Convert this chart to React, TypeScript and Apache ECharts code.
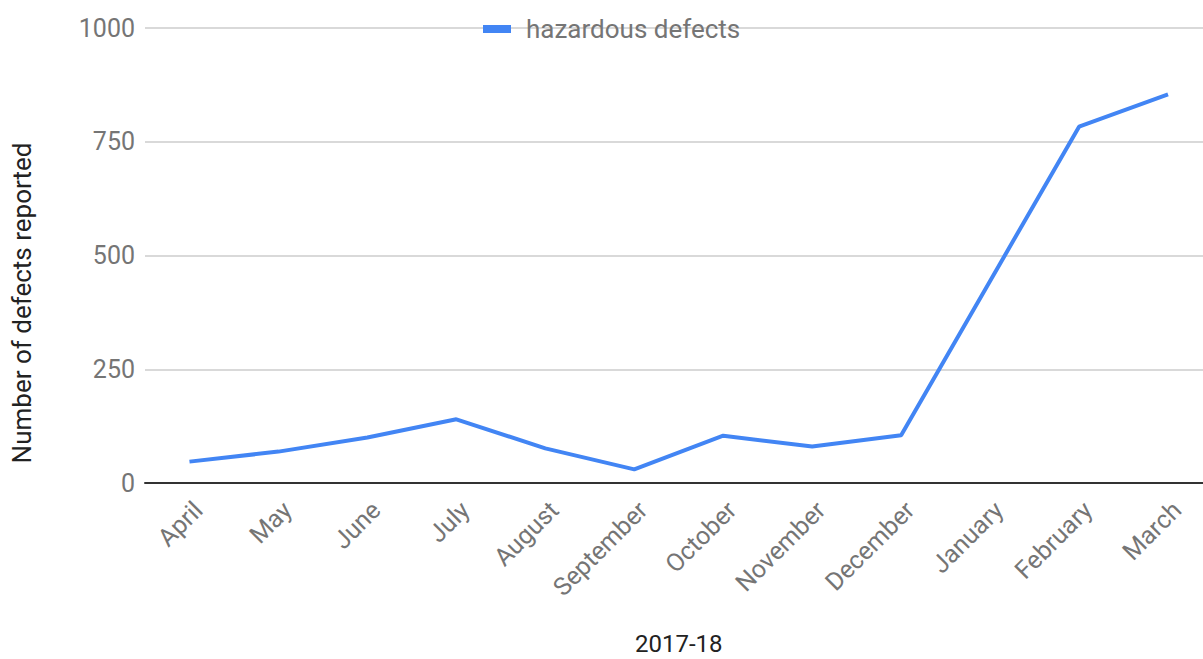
import React, { useEffect, useRef } from "react";
import * as echarts from "echarts";

// Monthly hazardous defect counts for the 2017-18 reporting year
const months = [
  "April", "May", "June", "July", "August", "September",
  "October", "November", "December", "January", "February", "March",
];
const hazardousDefects = [47, 69, 100, 140, 76, 30, 104, 80, 105, 444, 783, 854];
const yTicks = { min: 0, max: 1000, interval: 250 };

const seriesName = "hazardous defects";
const xTitle = "2017-18";
const yTitle = "Number of defects reported";

export default function App() {
  const ref = useRef<HTMLDivElement>(null);

  useEffect(() => {
    if (!ref.current) return;
    const chart = echarts.init(ref.current, undefined, { renderer: "svg" });
    const font = "Roboto, 'Noto Sans', sans-serif";
    chart.setOption({
      animation: false,
      backgroundColor: "#ffffff",
      textStyle: { fontFamily: font },
      grid: {
        left: 145,
        right: -9.5,
        top: 28,
        bottom: 176,
        containLabel: false,
        outerBoundsMode: "none",
      },
      legend: {
        data: [{ name: seriesName, icon: "rect" }],
        left: 483,
        top: 16,
        padding: 0,
        itemWidth: 28,
        itemHeight: 8,
        selectedMode: false,
        textStyle: {
          fontFamily: font,
          fontSize: 26,
          color: "#757575",
          padding: [0, 0, 0, 10],
        },
      },
      xAxis: {
        type: "category",
        data: months,
        boundaryGap: true,
        name: xTitle,
        nameLocation: "middle",
        nameGap: 161,
        nameTextStyle: {
          fontFamily: font,
          fontSize: 24,
          lineHeight: 20,
          verticalAlign: "middle",
          color: "#222222",
        },
        axisLine: { show: true, lineStyle: { color: "#333333", width: 2 } },
        axisTick: { show: false },
        axisLabel: {
          rotate: 45,
          interval: 0,
          margin: 14,
          verticalAlign: "top",
          fontFamily: font,
          fontSize: 25,
          color: "#757575",
        },
        splitLine: { show: false },
      },
      yAxis: {
        type: "value",
        min: yTicks.min,
        max: yTicks.max,
        interval: yTicks.interval,
        axisLine: { show: false },
        axisTick: { show: false },
        axisLabel: {
          margin: 10,
          fontFamily: font,
          fontSize: 25,
          color: "#757575",
          formatter: (v: number) => String(v),
        },
        splitLine: { show: true, lineStyle: { color: "#cccccc", width: 1.5 } },
      },
      graphic: [
        {
          type: "text",
          x: 22,
          y: 303,
          rotation: Math.PI / 2,
          style: {
            text: yTitle,
            fontFamily: font,
            fontSize: 26,
            fill: "#222222",
            align: "center",
            verticalAlign: "middle",
          },
        },
      ],
      series: [
        {
          name: seriesName,
          type: "line",
          data: hazardousDefects,
          showSymbol: false,
          symbol: "none",
          lineStyle: { color: "#4285f4", width: 4 },
          itemStyle: { color: "#4285f4" },
        },
      ],
    });
    return () => chart.dispose();
  }, []);

  return (
    <div
      ref={ref}
      style={{ position: "absolute", left: 0, top: 0, width: 1203, height: 659 }}
    />
  );
}
